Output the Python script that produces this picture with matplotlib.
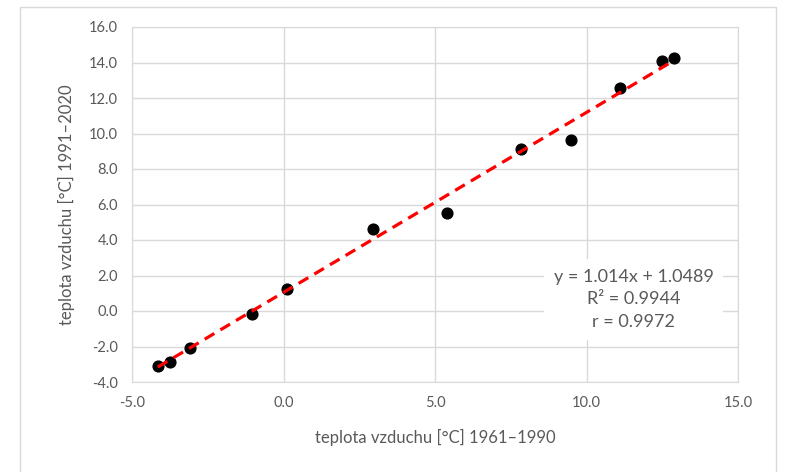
import numpy as np
import matplotlib.pyplot as plt
from matplotlib.patches import Rectangle

# mean air temperature per month/station, 1961-1990 vs 1991-2020
t_old = [-4.15, -3.75, -3.1, -1.05, 0.1, 2.95, 5.4, 7.85, 9.5, 11.1, 12.5, 12.9]
t_new = [-3.1, -2.85, -2.1, -0.15, 1.25, 4.6, 5.5, 9.1, 9.65, 12.55, 14.1, 14.25]

# trend line as shown in the chart
slope = 1.014
intercept = 1.0489
r2 = 0.9944
r = 0.9972

xticks = [-5.0, 0.0, 5.0, 10.0, 15.0]
yticks = [-4.0, -2.0, 0.0, 2.0, 4.0, 6.0, 8.0, 10.0, 12.0, 14.0, 16.0]

plt.rcParams['font.family'] = ['Lato', 'DejaVu Sans']
txt = '#595959'
grid = '#d9d9d9'

fig = plt.figure(figsize=(7.87, 4.72), dpi=100)
# outer chart border
fig.patches.append(Rectangle((20/787, -0.01), 756/787, 1 - 7/472 + 0.01,
                             transform=fig.transFigure, fill=False,
                             edgecolor=grid, linewidth=1))
ax = fig.add_axes([132/787, 1 - 382/472, 606/787, 355/472])

ax.scatter(t_old, t_new, s=60, color='black', zorder=3)
xl = np.array([min(t_old), max(t_old)])
ax.plot(xl, slope * xl + intercept, color='#ff0000', linestyle=(0, (3.5, 2.2)),
        linewidth=2.3, zorder=4)

ax.set_xlim(-5, 15)
ax.set_ylim(-4, 16)
ax.set_xticks(xticks)
ax.set_yticks(yticks)
ax.set_xticklabels(['%.1f' % v for v in xticks])
ax.set_yticklabels(['%.1f' % v for v in yticks])
ax.tick_params(length=0, labelsize=10.5, colors=txt, pad=10)
ax.grid(True, color=grid, linewidth=1)
ax.set_axisbelow(True)
for s in ax.spines.values():
    s.set_color(grid)

ax.set_xlabel('teplota vzduchu [°C] 1961–1990', fontsize=12, color=txt, labelpad=14)
ax.set_ylabel('teplota vzduchu [°C] 1991–2020', fontsize=12, color=txt, labelpad=10)

label = 'y = %.3fx + %.4f\nR² = %.4f\nr = %.4f' % (slope, intercept, r2, r)
ax.text(11.55, 0.65, label, ha='center', va='center', fontsize=13, color=txt,
        linespacing=1.5, zorder=5,
        bbox=dict(facecolor='white', edgecolor='none', pad=7))

fig.savefig('out.png', dpi=100)
